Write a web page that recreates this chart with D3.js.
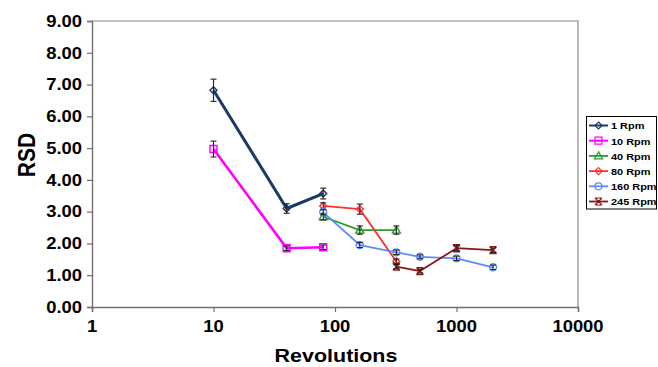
<!DOCTYPE html>
<html>
<head>
<meta charset="utf-8">
<script src="https://cdn.jsdelivr.net/npm/d3@7"></script>
<style>
  body { margin: 0; background: #fff; }
  svg text { font-family: "Liberation Sans", Arial, sans-serif; font-weight: bold; fill: #000; }
</style>
</head>
<body>
<svg width="658" height="367"></svg>
<script>
// chart data
const seriesNames = ['1 Rpm', '10 Rpm', '40 Rpm', '80 Rpm', '160 Rpm', '245 Rpm'];
const revs1 = [10, 40, 80];
const rsd1 = [6.82, 3.10, 3.57];
const err1 = [0.35, 0.15, 0.17];
const revs10 = [10, 40, 80];
const rsd10 = [4.97, 1.85, 1.88];
const err10 = [0.25, 0.07, 0.07];
const revs40 = [80, 160, 320];
const rsd40 = [2.84, 2.42, 2.42];
const err40 = [0.1, 0.13, 0.13];
const revs80 = [80, 160, 320];
const rsd80 = [3.18, 3.08, 1.43];
const err80 = [0.1, 0.16, 0.08];
const revs160 = [80, 160, 320, 500, 1000, 2000];
const rsd160 = [2.98, 1.95, 1.72, 1.58, 1.53, 1.25];
const err160 = [0.08, 0.08, 0.07, 0.06, 0.07, 0.07];
const revs245 = [320, 500, 1000, 2000];
const rsd245 = [1.27, 1.13, 1.85, 1.79];
const err245 = [0.07, 0.06, 0.08, 0.07];
const xTicks = [1, 10, 100, 1000, 10000];
const yTicks = [0, 1, 2, 3, 4, 5, 6, 7, 8, 9];

const colors = ['#1c3a66', '#ff00ff', '#2f9a2f', '#ff3030', '#5a8cff', '#8c1515'];
const widths = [3, 2.6, 1.8, 1.8, 1.8, 1.8];

let series = [
    {name: seriesNames[0], x: revs1, y: rsd1, e: err1, marker: 'diamond'},
    {name: seriesNames[1], x: revs10, y: rsd10, e: err10, marker: 'square'},
    {name: seriesNames[2], x: revs40, y: rsd40, e: err40, marker: 'triangle'},
    {name: seriesNames[3], x: revs80, y: rsd80, e: err80, marker: 'diamond'},
    {name: seriesNames[4], x: revs160, y: rsd160, e: err160, marker: 'circle'},
    {name: seriesNames[5], x: revs245, y: rsd245, e: err245, marker: 'star'}
];
series.forEach(function (s, i) {
    s.color = colors[i];
    s.width = widths[i];
    s.points = s.x.map(function (v, j) { return {x: v, y: s.y[j], e: s.e[j]}; });
});

let svg = d3.select("svg");
const SX = 1.13; // picture is stretched sideways

let x = d3.scaleLog().domain([1, 10000]).range([92, 578]);
let y = d3.scaleLinear().domain([0, 9]).range([307, 21]);

// plot frame (top and right)
svg.append("path")
    .attr("d", "M92,21H578V307")
    .attr("fill", "none")
    .attr("stroke", "#8a8a8a")
    .attr("stroke-width", 1.2);

// axes
let xAxis = svg.append("g")
    .attr("transform", "translate(0,307)")
    .call(d3.axisBottom(x).tickValues(xTicks).tickSize(5).tickFormat(""));
let yAxis = svg.append("g")
    .attr("transform", "translate(92,0)")
    .call(d3.axisLeft(y).tickValues(yTicks).tickSize(5).tickFormat(""));
[xAxis, yAxis].forEach(function (a) {
    a.select(".domain").attr("stroke", "#707070").attr("stroke-width", 1.4);
    a.selectAll(".tick line").attr("stroke", "#707070").attr("stroke-width", 1.2);
});

// tick labels, drawn by hand so they can be stretched like the picture
svg.append("g").selectAll("text")
    .data(xTicks)
    .enter().append("text")
    .attr("transform", function (d) { return "translate(" + x(d) + ",332) scale(" + SX + ",1)"; })
    .attr("text-anchor", "middle")
    .attr("font-size", 16.3)
    .text(function (d) { return d; });

svg.append("g").selectAll("text")
    .data(yTicks)
    .enter().append("text")
    .attr("transform", function (d) { return "translate(82," + (y(d) + 5.8) + ") scale(" + SX + ",1)"; })
    .attr("text-anchor", "end")
    .attr("font-size", 16.3)
    .text(function (d) { return d3.format(".2f")(d); });

// axis titles
svg.append("text")
    .attr("transform", "translate(336,362) scale(" + SX + ",1)")
    .attr("text-anchor", "middle")
    .attr("font-size", 19)
    .text("Revolutions");
svg.append("text")
    .attr("transform", "translate(35,155) rotate(-90) scale(1," + SX + ")")
    .attr("text-anchor", "middle")
    .attr("font-size", 21)
    .text("RSD");

function markerPath(type, cx, cy) {
    if (type === 'diamond') return "M" + cx + "," + (cy - 3.5) + "L" + (cx + 3.5) + "," + cy + "L" + cx + "," + (cy + 3.5) + "L" + (cx - 3.5) + "," + cy + "Z";
    if (type === 'square') return "M" + (cx - 3.5) + "," + (cy - 3.5) + "h7v7h-7Z";
    if (type === 'triangle') return "M" + cx + "," + (cy - 4) + "L" + (cx + 4) + "," + (cy + 3) + "L" + (cx - 4) + "," + (cy + 3) + "Z";
    if (type === 'circle') return "M" + (cx - 3.5) + "," + cy + "a3.5,3.5 0 1,0 7,0a3.5,3.5 0 1,0 -7,0";
    // star: hourglass-like cross
    return "M" + (cx - 3.5) + "," + (cy - 3.5) + "L" + (cx + 3.5) + "," + (cy + 3.5) +
        "M" + (cx + 3.5) + "," + (cy - 3.5) + "L" + (cx - 3.5) + "," + (cy + 3.5) +
        "M" + (cx - 3.5) + "," + (cy - 3.5) + "H" + (cx + 3.5) +
        "M" + (cx - 3.5) + "," + (cy + 3.5) + "H" + (cx + 3.5);
}

let line = d3.line()
    .x(function (d) { return x(d.x); })
    .y(function (d) { return y(d.y); });

let plot = svg.append("g");

series.forEach(function (s) {
    let g = plot.append("g");
    g.append("path")
        .datum(s.points)
        .attr("d", line)
        .attr("fill", "none")
        .attr("stroke", s.color)
        .attr("stroke-width", s.width)
        .attr("stroke-linejoin", "round");

    g.selectAll(".mk")
        .data(s.points)
        .enter().append("path")
        .attr("class", "mk")
        .attr("d", function (d) { return markerPath(s.marker, x(d.x), y(d.y)); })
        .attr("fill", s.marker === 'star' ? s.color : "none")
        .attr("stroke", s.color)
        .attr("stroke-width", 1.4);

    // error bars
    let eb = g.selectAll(".eb")
        .data(s.points)
        .enter().append("g")
        .attr("class", "eb")
        .attr("stroke", "#222")
        .attr("stroke-width", 1.1);
    eb.append("line")
        .attr("x1", function (d) { return x(d.x); })
        .attr("x2", function (d) { return x(d.x); })
        .attr("y1", function (d) { return y(d.y + d.e); })
        .attr("y2", function (d) { return y(d.y - d.e); });
    eb.append("line")
        .attr("x1", function (d) { return x(d.x) - 3; })
        .attr("x2", function (d) { return x(d.x) + 3; })
        .attr("y1", function (d) { return y(d.y + d.e); })
        .attr("y2", function (d) { return y(d.y + d.e); });
    eb.append("line")
        .attr("x1", function (d) { return x(d.x) - 3; })
        .attr("x2", function (d) { return x(d.x) + 3; })
        .attr("y1", function (d) { return y(d.y - d.e); })
        .attr("y2", function (d) { return y(d.y - d.e); });
});

// legend
let legend = svg.append("g");
legend.append("rect")
    .attr("x", 586.5).attr("y", 116.5)
    .attr("width", 70).attr("height", 92.5)
    .attr("fill", "#fff")
    .attr("stroke", "#000")
    .attr("stroke-width", 1);

let item = legend.selectAll(".item")
    .data(series)
    .enter().append("g")
    .attr("class", "item")
    .attr("transform", function (d, i) { return "translate(0," + (125.5 + i * 15.2) + ")"; });
item.append("line")
    .attr("x1", 589).attr("x2", 608)
    .attr("stroke", function (d) { return d.color; })
    .attr("stroke-width", function (d) { return Math.min(d.width, 2); });
item.append("path")
    .attr("d", function (d) { return markerPath(d.marker, 598.5, 0); })
    .attr("fill", function (d) { return d.marker === 'star' ? d.color : "none"; })
    .attr("stroke", function (d) { return d.color; })
    .attr("stroke-width", 1.2);
item.append("text")
    .attr("transform", "translate(611,3.8) scale(" + SX + ",1)")
    .attr("font-size", 9.7)
    .text(function (d) { return d.name; });
</script>
</body>
</html>
